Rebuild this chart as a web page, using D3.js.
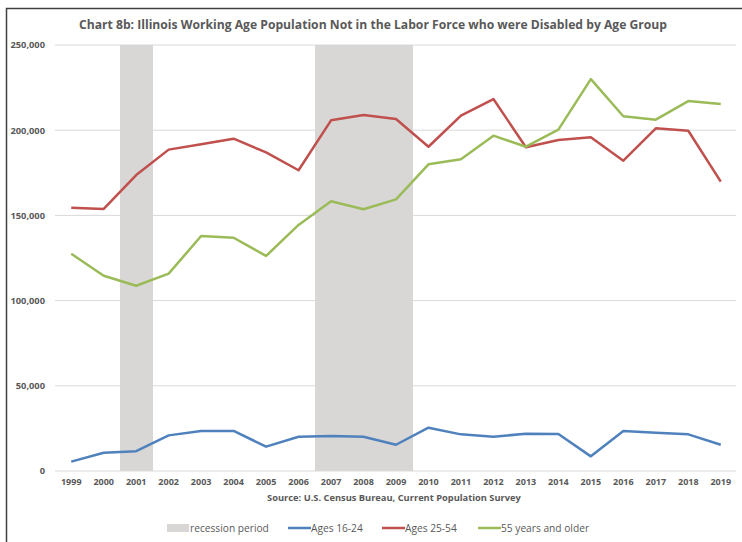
<!DOCTYPE html>
<html>
<head>
<meta charset="utf-8">
<script src="https://d3js.org/d3.v7.min.js"></script>
<style>
  body { margin: 0; background: #fff; }
  text { font-family: "Open Sans", "Liberation Sans", sans-serif; }
</style>
</head>
<body>
<div id="chart"></div>
<script>
// chart data
var years = ["1999","2000","2001","2002","2003","2004","2005","2006","2007","2008","2009",
             "2010","2011","2012","2013","2014","2015","2016","2017","2018","2019"];
var recessionYears = ["2001", "2007", "2008", "2009"];
var ages16to24 = [5500, 10700, 11600, 20900, 23500, 23500, 14300, 20100, 20500, 20100, 15400,
                  25400, 21500, 20100, 21900, 21700, 8600, 23500, 22500, 21500, 15400];
var ages25to54 = [154500, 153800, 173700, 188600, 191700, 195000, 187000, 176500, 205800, 208900, 206600,
                  190300, 208500, 218300, 190000, 194200, 195800, 182100, 201100, 199700, 169800];
var ages55plus = [127500, 114600, 108700, 115800, 137900, 136900, 126200, 144400, 158300, 153600, 159400,
                  180000, 182900, 196800, 190300, 200300, 230000, 208200, 206200, 217100, 215400];
var yTicks = [0, 50000, 100000, 150000, 200000, 250000];

var series = [
  {name: "Ages 16-24", values: ages16to24, color: "#4F81BD"},
  {name: "Ages 25-54", values: ages25to54, color: "#C0504D"},
  {name: "55 years and older", values: ages55plus, color: "#9BBB59"}
];

var W = 742, H = 542;
var svg = d3.select("#chart").append("svg").attr("width", W).attr("height", H);

// outer frame (cropped on right/bottom)
svg.append("path").attr("d", "M6.5,542 V8.5 H742").attr("fill", "none")
   .attr("stroke", "#404040").attr("stroke-width", 1.5);

var x = d3.scaleBand().domain(years).range([55, 737]).padding(0);
var y = d3.scaleLinear().domain([0, 250000]).range([471, 45]);

svg.append("text").attr("x", 373).attr("y", 29).attr("text-anchor", "middle")
   .attr("font-size", 12).attr("font-weight", "bold").attr("fill", "#595959")
   .attr("textLength", 588).attr("lengthAdjust", "spacingAndGlyphs")
   .text("Chart 8b: Illinois Working Age Population Not in the Labor Force who were Disabled by Age Group");

// gridlines
svg.selectAll(".grid").data(yTicks.slice(1)).enter().append("line")
   .attr("x1", 55).attr("x2", 736).attr("y1", function(d){ return y(d); }).attr("y2", function(d){ return y(d); })
   .attr("stroke", "#d9d9d9").attr("stroke-width", 1);

// recession shading
svg.selectAll(".rec").data(recessionYears).enter().append("rect")
   .attr("x", function(d){ return x(d); }).attr("width", x.bandwidth() + 0.5)
   .attr("y", y(250000)).attr("height", y(0) - y(250000)).attr("fill", "#D9D7D6")
   .attr("shape-rendering", "crispEdges");

// baseline
svg.append("line").attr("x1", 55).attr("x2", 736).attr("y1", y(0)).attr("y2", y(0))
   .attr("stroke", "#d9d9d9").attr("stroke-width", 1);

// y axis labels
var yAxis = svg.append("g").attr("transform", "translate(45,0)")
   .call(d3.axisLeft(y).tickValues(yTicks).tickSize(0).tickPadding(0).tickFormat(d3.format(",")));
yAxis.select(".domain").remove();
yAxis.selectAll("text").attr("font-size", 9.3).attr("font-weight", "bold").attr("fill", "#595959")
   .attr("font-family", null);

// x axis labels
var xAxis = svg.append("g").attr("transform", "translate(0,477)")
   .call(d3.axisBottom(x).tickSize(0).tickPadding(2));
xAxis.select(".domain").remove();
xAxis.selectAll("text").attr("font-size", 9).attr("font-weight", "bold").attr("fill", "#595959")
   .attr("font-family", null);

svg.append("text").attr("x", 394).attr("y", 501).attr("text-anchor", "middle")
   .attr("font-size", 9.3).attr("font-weight", "bold").attr("fill", "#595959")
   .text("Source: U.S. Census Bureau, Current Population Survey");

// lines
var line = d3.line()
   .x(function(d, i){ return x(years[i]) + x.bandwidth() / 2; })
   .y(function(d){ return y(d); });

svg.selectAll(".series").data(series).enter().append("path")
   .attr("d", function(s){ return line(s.values); })
   .attr("fill", "none").attr("stroke", function(s){ return s.color; })
   .attr("stroke-width", 2.5).attr("stroke-linejoin", "round");

// legend
var legend = svg.append("g").attr("font-size", 10.2).attr("fill", "#595959");
legend.append("rect").attr("x", 167).attr("y", 524).attr("width", 22).attr("height", 8).attr("fill", "#D9D7D6");
legend.append("text").attr("x", 190).attr("y", 532).attr("fill", "#595959").text("recession period");
var legX = [288, 382, 478];
series.forEach(function(s, i){
  legend.append("line").attr("x1", legX[i]).attr("x2", legX[i] + 23).attr("y1", 528).attr("y2", 528)
     .attr("stroke", s.color).attr("stroke-width", 2.5);
  legend.append("text").attr("x", legX[i] + 23).attr("y", 532).attr("fill", "#595959").text(s.name);
});
</script>
</body>
</html>
